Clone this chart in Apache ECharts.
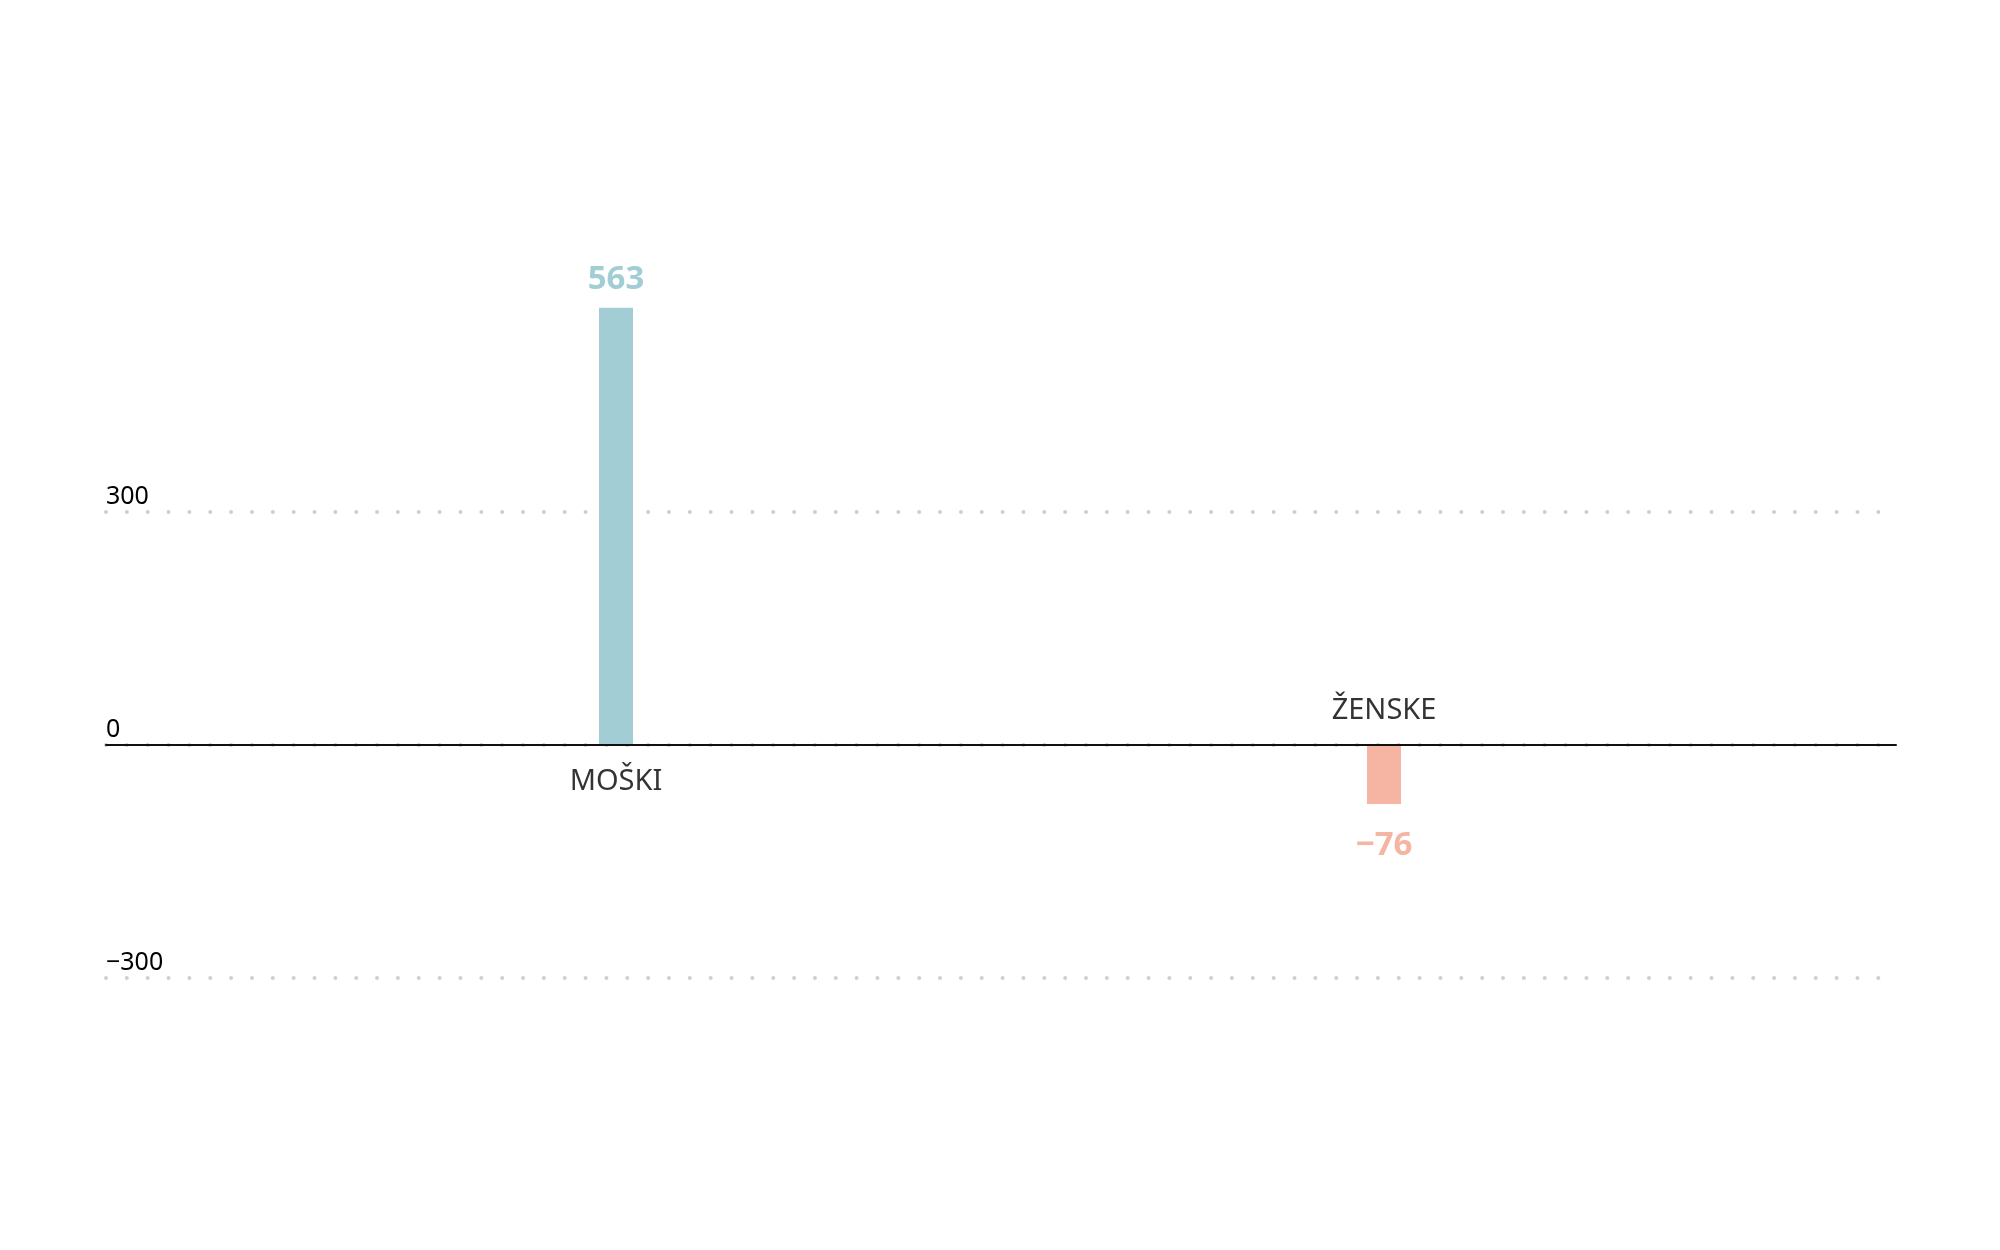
<!DOCTYPE html>
<html>
<head>
<meta charset="utf-8">
<script src="https://cdn.jsdelivr.net/npm/echarts@6.0.0/dist/echarts.min.js"></script>
<style>
html, body { margin: 0; padding: 0; background: #ffffff; }
#chart { width: 2000px; height: 1250px; }
</style>
</head>
<body>
<div id="chart"></div>
<script>
// ---- data ----
const categories = ['MOŠKI', 'ŽENSKE'];
const values = [563, -76];
const barColors = ['#a3cdd5', '#f5b5a2'];
const yTicks = [-300, 0, 300];
const yMin = -300;
const yMax = 600;
const yStep = 300;

// ---- styling ----
const FONT = 'Noto Sans';
const gridTop = 279, gridBottom = 272;

const fmtNum = v => String(v).replace('-', '\u2212');

const chart = echarts.init(document.getElementById('chart'), null, { renderer: 'canvas' });

const option = {
  animation: false,
  backgroundColor: '#ffffff',
  grid: [
    { left: 106, right: 104, top: gridTop, bottom: gridBottom, containLabel: false },
    { left: 232, right: 232, top: gridTop, bottom: gridBottom, containLabel: false }
  ],
  xAxis: [
    {
      gridIndex: 0, type: 'category', data: categories, z: 5,
      axisLine: { show: true, onZero: true, lineStyle: { color: '#111111', width: 2 } },
      axisTick: { show: false }, axisLabel: { show: false }, splitLine: { show: false }
    },
    {
      gridIndex: 1, type: 'category', data: categories,
      axisLine: { show: false }, axisTick: { show: false }, axisLabel: { show: false }, splitLine: { show: false }
    }
  ],
  yAxis: [
    {
      gridIndex: 0, type: 'value', min: yMin, max: yMax, interval: yStep,
      axisLine: { show: false }, axisTick: { show: false },
      axisLabel: {
        show: true, inside: true, margin: 0, align: 'left', verticalAlign: 'bottom',
        padding: [0, 0, 3, 0], showMaxLabel: false,
        fontFamily: FONT, fontSize: 25, color: '#000000',
        formatter: v => (yTicks.indexOf(v) >= 0 ? fmtNum(v) : '')
      },
      splitLine: {
        show: true, showMinLine: true, showMaxLine: false,
        lineStyle: { color: '#cfcfcf', width: 4, type: [0.001, 20.85], cap: 'round' }
      }
    },
    {
      gridIndex: 1, type: 'value', min: yMin, max: yMax, interval: yStep,
      axisLine: { show: false }, axisTick: { show: false }, axisLabel: { show: false }, splitLine: { show: false }
    }
  ],
  series: [
    {
      type: 'bar', xAxisIndex: 1, yAxisIndex: 1, barWidth: 34, z: 3,
      data: values.map((v, i) => ({
        value: v,
        itemStyle: { color: barColors[i] },
        label: {
          show: true,
          position: v >= 0 ? 'top' : 'bottom',
          distance: v >= 0 ? 12 : 25,
          color: barColors[i],
          fontFamily: FONT, fontWeight: 'bold', fontSize: 33,
          formatter: p => fmtNum(p.value)
        }
      }))
    },
    {
      type: 'scatter', xAxisIndex: 1, yAxisIndex: 1, symbolSize: 1, z: 4,
      itemStyle: { color: 'rgba(0,0,0,0)' },
      data: values.map((v, i) => ({
        value: 0,
        label: {
          show: true,
          position: v >= 0 ? 'bottom' : 'top',
          distance: v >= 0 ? 22 : 19,
          color: '#000000',
          fontFamily: FONT, fontSize: 29,
          formatter: () => categories[i]
        }
      }))
    }
  ]
};

chart.setOption(option);
</script>
</body>
</html>
